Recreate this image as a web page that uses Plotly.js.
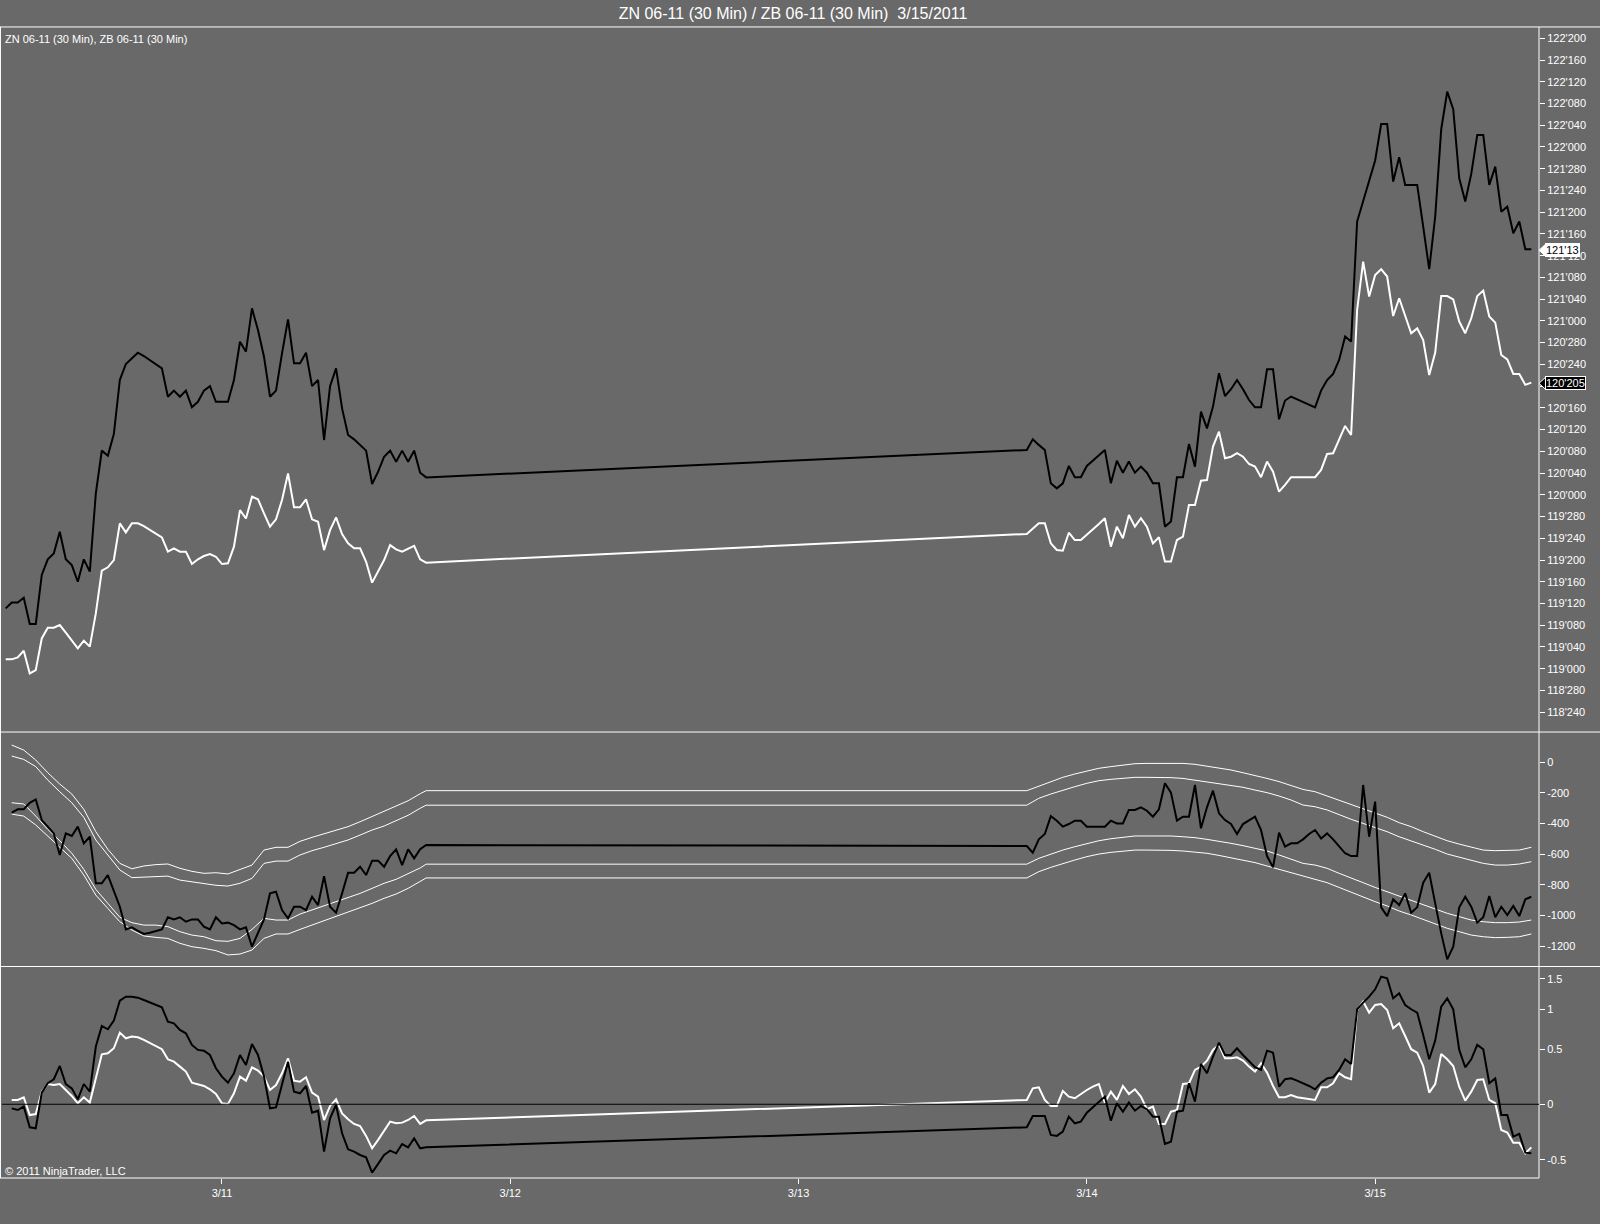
<!DOCTYPE html>
<html><head><meta charset="utf-8">
<script src="https://cdn.plot.ly/plotly-3.0.1.min.js"></script>
<style>html,body{margin:0;padding:0;background:#696969;overflow:hidden;}#chart{width:1600px;height:1224px;}</style>
</head><body><div id="chart"></div>
<script>
// ---- sessions (30-minute bars) ----
const sessionFri = {start: '2011-03-10T06:00', bars: 71};
const sessionMon = {start: '2011-03-13T19:00', bars: 85};

// ---- top panel: ZN (black) and ZB (white) prices ----
const znFri = [119.347,119.381,119.381,119.408,119.257,119.257,119.539,119.629,119.663,119.788,
119.629,119.596,119.500,119.629,119.558,120.008,120.254,120.225,120.349,120.660,
120.752,120.785,120.817,120.798,120.775,120.752,120.727,120.564,120.599,120.564,
120.599,120.503,120.535,120.599,120.625,120.535,120.535,120.535,120.660,120.880,
120.823,121.072,120.947,120.794,120.564,120.599,120.813,121.009,120.756,120.756,
120.817,120.625,120.660,120.315,120.625,120.727,120.497,120.344,120.319,120.286,
120.254,120.062,120.133,120.219,120.254,120.190,120.254,120.190,120.254,120.127,
120.100];
const znMon = [120.258,120.319,120.287,120.258,120.066,120.037,120.066,120.166,120.101,120.101,
120.166,120.196,120.229,120.258,120.066,120.196,120.127,120.191,120.127,120.162,
120.127,120.066,120.066,119.817,119.846,120.101,120.101,120.292,120.162,120.478,
120.382,120.507,120.699,120.568,120.607,120.660,120.607,120.545,120.503,120.503,
120.722,120.722,120.434,120.542,120.565,120.549,120.534,120.519,120.503,120.599,
120.660,120.695,120.775,120.910,120.881,121.571,121.686,121.801,121.922,122.132,
122.132,121.801,121.941,121.782,121.782,121.782,121.542,121.297,121.600,122.102,
122.318,122.217,121.820,121.686,121.845,122.069,122.069,121.782,121.887,121.628,
121.657,121.504,121.571,121.412,121.412];
const zbFri = [119.054,119.054,119.065,119.104,118.973,118.992,119.174,119.236,119.236,119.251,
119.207,119.161,119.117,119.161,119.127,119.318,119.564,119.583,119.625,119.836,
119.784,119.836,119.836,119.820,119.797,119.774,119.755,119.673,119.692,119.673,
119.673,119.602,119.629,119.648,119.659,119.644,119.602,119.606,119.702,119.912,
119.864,119.989,119.974,119.893,119.817,119.859,119.970,120.123,119.928,119.928,
119.974,119.859,119.845,119.682,119.797,119.870,119.774,119.721,119.692,119.692,
119.615,119.495,119.558,119.625,119.711,119.686,119.673,119.692,119.707,119.629,
119.610];
const zbMon = [119.775,119.807,119.836,119.836,119.721,119.683,119.679,119.782,119.740,119.740,
119.769,119.798,119.832,119.865,119.702,119.817,119.750,119.884,119.817,119.865,
119.817,119.721,119.756,119.616,119.616,119.740,119.759,119.942,119.942,120.081,
120.085,120.277,120.363,120.210,120.219,120.239,120.219,120.177,120.162,120.101,
120.191,120.133,120.018,120.057,120.101,120.101,120.101,120.101,120.101,120.143,
120.235,120.239,120.315,120.396,120.344,121.063,121.341,121.140,121.264,121.297,
121.255,121.028,121.130,121.034,120.929,120.957,120.890,120.689,120.818,121.143,
121.143,121.124,120.996,120.929,121.015,121.143,121.174,121.025,120.990,120.804,
120.779,120.695,120.695,120.632,120.645];

// ---- middle panel: spread (black) and bands (white) ----
const spreadFri = [null,-329,-307,-307,-264,-242,-377,-420,-464,-605,
-464,-481,-420,-529,-486,-790,-790,-736,-834,-943,
-1091,-1078,-1100,-1121,-1113,-1102,-1091,-1012,-1026,-1012,
-1041,-1026,-1026,-1073,-1091,-1012,-1052,-1047,-1063,-1091,
-1078,-1204,-1117,-1026,-856,-845,-965,-1019,-943,-943,
-965,-878,-932,-743,-943,-982,-856,-721,-721,-682,
-736,-642,-642,-682,-612,-568,-671,-568,-627,-568,
-540];
const spreadMon = [-547,-590,-503,-468,-351,-381,-420,-403,-381,-381,
-420,-420,-420,-420,-381,-399,-399,-311,-311,-294,
-316,-355,-307,-137,-198,-381,-355,-355,-148,-431,
-294,-185,-333,-377,-403,-468,-403,-377,-355,-442,
-612,-686,-460,-551,-529,-529,-503,-468,-442,-497,
-464,-503,-551,-594,-612,-612,-148,-486,-257,-947,
-1004,-895,-932,-856,-982,-947,-786,-721,-921,-1117,
-1287,-1204,-947,-878,-943,-1047,-1012,-873,-1012,-943,
-997,-938,-1004,-895,-878];
// bands are read every second bar
const bandUpperOuterFri = [113,80,15,-68,-142,-207,-307,-453,-568,-660,-695,-677,-668,-664,-692,-712,-725,-721,-729,-699,-671,-573,-555,-555,-516,-490,-468,-442,-420,-388,-355,-322,-285,-251,-205,-185];
const bandUpperInnerFri = [41,19,-28,-116,-192,-264,-359,-507,-605,-703,-753,-751,-747,-743,-769,-782,-795,-803,-808,-790,-758,-660,-645,-645,-605,-577,-555,-529,-507,-475,-442,-416,-381,-346,-300,-280];
const bandLowerInnerFri = [-264,-272,-351,-438,-512,-594,-699,-830,-921,-1012,-1047,-1063,-1063,-1073,-1106,-1128,-1139,-1165,-1169,-1150,-1091,-1019,-1030,-1030,-991,-965,-938,-910,-882,-856,-823,-790,-764,-729,-690,-665];
const bandLowerOuterFri = [-338,-351,-409,-481,-551,-627,-736,-867,-954,-1041,-1095,-1134,-1143,-1150,-1182,-1204,-1215,-1230,-1258,-1252,-1226,-1150,-1121,-1121,-1091,-1063,-1034,-1008,-982,-954,-921,-888,-860,-823,-780,-755];
const bandUpperOuterMon = [-185,-155,-126,-98,-76,-55,-39,-28,-18,-9,-7,-7,-7,-7,-13,-24,-37,-50,-68,-85,-105,-126,-150,-177,-192,-220,-251,-279,-307,-333,-359,-394,-420,-453,-481,-512,-534,-555,-573,-577,-577,-573,-555];
const bandUpperInnerMon = [-280,-235,-207,-181,-159,-137,-120,-111,-105,-98,-98,-98,-100,-105,-116,-126,-137,-148,-163,-181,-198,-220,-246,-279,-290,-311,-344,-372,-399,-425,-453,-486,-512,-540,-568,-599,-621,-642,-660,-671,-671,-664,-649];
const bandLowerInnerMon = [-665,-627,-599,-573,-551,-529,-512,-499,-490,-481,-481,-481,-481,-486,-492,-503,-514,-529,-544,-562,-579,-605,-634,-660,-671,-692,-725,-758,-786,-817,-845,-878,-904,-932,-960,-986,-1008,-1030,-1041,-1047,-1047,-1043,-1030];
const bandLowerOuterMon = [-755,-714,-686,-660,-638,-616,-599,-588,-579,-573,-573,-573,-575,-579,-586,-594,-608,-623,-638,-655,-677,-699,-725,-747,-764,-786,-817,-849,-878,-910,-938,-971,-997,-1026,-1056,-1084,-1106,-1128,-1139,-1145,-1143,-1139,-1121];

// ---- bottom panel: oscillators ----
const oscBlackFri = [null,-0.037,-0.052,-0.021,-0.208,-0.217,0.105,0.190,0.226,0.346,
0.183,0.144,0.045,0.183,0.114,0.521,0.707,0.677,0.755,0.936,
0.972,0.972,0.963,0.942,0.918,0.897,0.876,0.746,0.731,0.671,
0.641,0.536,0.491,0.484,0.445,0.325,0.250,0.195,0.280,0.445,
0.355,0.545,0.445,0.250,-0.037,-0.028,0.190,0.385,0.114,0.099,
0.165,-0.076,-0.058,-0.428,-0.127,-0.006,-0.262,-0.407,-0.428,-0.458,
-0.479,-0.618,-0.539,-0.458,-0.419,-0.443,-0.359,-0.389,-0.307,-0.398,
-0.389];
const oscWhiteFri = [null,0.039,0.039,0.063,-0.097,-0.088,0.114,0.183,0.174,0.183,
0.129,0.075,0.009,0.063,0.015,0.234,0.451,0.460,0.506,0.647,
0.596,0.611,0.605,0.581,0.551,0.527,0.497,0.406,0.385,0.340,
0.295,0.195,0.183,0.165,0.135,0.093,0.009,0.003,0.099,0.250,
0.213,0.334,0.304,0.250,0.129,0.174,0.280,0.415,0.213,0.204,
0.244,0.105,0.069,-0.142,-0.015,0.045,-0.082,-0.136,-0.178,-0.196,
-0.286,-0.398,-0.322,-0.238,-0.157,-0.172,-0.166,-0.142,-0.106,-0.178,
-0.145];
const oscBlackMon = [-0.208,-0.106,-0.106,-0.106,-0.277,-0.286,-0.247,-0.112,-0.172,-0.157,
-0.076,-0.028,0.024,0.069,-0.148,0.009,-0.067,0.015,-0.058,-0.015,
-0.045,-0.112,-0.112,-0.359,-0.338,-0.067,-0.058,0.190,0.024,0.364,
0.280,0.430,0.557,0.445,0.445,0.506,0.445,0.385,0.334,0.310,
0.484,0.466,0.159,0.226,0.234,0.213,0.190,0.165,0.135,0.195,
0.234,0.244,0.310,0.406,0.364,0.858,0.918,0.972,1.038,1.153,
1.138,0.957,1.002,0.897,0.858,0.828,0.626,0.406,0.575,0.882,
0.957,0.858,0.491,0.334,0.406,0.536,0.497,0.190,0.234,-0.097,
-0.097,-0.292,-0.268,-0.437,-0.443];
const oscWhiteMon = [0.039,0.144,0.153,0.039,-0.015,-0.015,0.120,0.069,0.054,0.093,
0.129,0.159,0.183,0.015,0.114,0.039,0.165,0.093,0.135,0.069,
-0.045,-0.021,-0.178,-0.178,-0.067,-0.052,0.183,0.190,0.310,0.340,
0.394,0.491,0.536,0.415,0.415,0.424,0.394,0.340,0.295,0.370,
0.286,0.165,0.063,0.063,0.084,0.063,0.054,0.045,0.039,0.153,
0.153,0.190,0.280,0.244,0.226,0.852,0.927,0.828,0.897,0.906,
0.852,0.686,0.731,0.617,0.497,0.466,0.346,0.105,0.183,0.454,
0.406,0.346,0.159,0.033,0.114,0.219,0.226,0.039,0.009,-0.232,
-0.256,-0.347,-0.347,-0.443,-0.389];

// ---- last-value tags ----
const lastZN = 121.406, lastZNText = "121'13";
const lastZB = 120.641, lastZBText = "120'205";

// ---- axis labels ----
const dateTickVals = ['2011-03-11','2011-03-12','2011-03-13','2011-03-14','2011-03-15'];
const dateTickText = ['3/11','3/12','3/13','3/14','3/15'];
const priceTickVals = [118.75,118.875,119,119.125,119.25,119.375,119.5,119.625,119.75,119.875,120,120.125,120.25,120.375,120.5,120.625,120.75,120.875,121,121.125,121.25,121.375,121.5,121.625,121.75,121.875,122,122.125,122.25,122.375,122.5,122.625];
const priceTickText = ["118'240","118'280","119'000","119'040","119'080","119'120","119'160","119'200","119'240","119'280","120'000","120'040","120'080","120'120","120'160","","120'240","120'280","121'000","121'040","121'080","121'120","121'160","121'200","121'240","121'280","122'000","122'040","122'080","122'120","122'160","122'200"];
const spreadTickVals = [0,-200,-400,-600,-800,-1000,-1200];
const spreadTickText = ['0','-200','-400','-600','-800','-1000','-1200'];
const oscTickVals = [1.132,0.858,0.497,0,-0.503];
const oscTickText = ['1.5','1','0.5','0','-0.5'];

// ---- build x values ----
function barTimes(s){
  const t0 = Date.parse(s.start + ':00Z'); const out = [];
  for (let k = 0; k < s.bars; k++) out.push(new Date(t0 + k*1800000).toISOString().slice(0,16).replace('T',' '));
  return out;
}
const tFri = barTimes(sessionFri), tMon = barTimes(sessionMon);
const tAll = tFri.concat(tMon);
const bandTimes = [];
for (let i = 1; i <= 69; i += 2) bandTimes.push(tFri[i]);
bandTimes.push(tFri[70]);
for (let j = 0; j <= 84; j += 2) bandTimes.push(tMon[j]);

const BLACK = '#000000', WHITE = '#ffffff';
function line(x, y, color, width, yaxis){
  return {type:'scatter', mode:'lines', x:x, y:y, yaxis:yaxis, line:{color:color, width:width}, connectgaps:false, hoverinfo:'skip'};
}
const traces = [
  line(tAll, zbFri.concat(zbMon), WHITE, 2, 'y'),
  line(tAll, znFri.concat(znMon), BLACK, 2, 'y'),
  line(bandTimes, bandUpperOuterFri.concat(bandUpperOuterMon), WHITE, 1, 'y2'),
  line(bandTimes, bandUpperInnerFri.concat(bandUpperInnerMon), WHITE, 1, 'y2'),
  line(bandTimes, bandLowerInnerFri.concat(bandLowerInnerMon), WHITE, 1, 'y2'),
  line(bandTimes, bandLowerOuterFri.concat(bandLowerOuterMon), WHITE, 1, 'y2'),
  line(tAll, spreadFri.concat(spreadMon), BLACK, 2, 'y2'),
  line(tAll, oscWhiteFri.concat(oscWhiteMon), WHITE, 2, 'y3'),
  line(tAll, oscBlackFri.concat(oscBlackMon), BLACK, 2, 'y3')
];

const yCommon = {side:'right', anchor:'x', showgrid:false, zeroline:false, showline:false,
  ticks:'outside', ticklen:5, tickwidth:1, tickcolor:WHITE, tickfont:{size:11, color:WHITE}, fixedrange:true};

const W = '#ffffff';
// tag pointer geometry (half height of tag in price units on top axis)
const tagHalf = 0.034, tagX0 = 1.0, tagX1 = 1.0042;
function tagPointer(v, fill){
  return {type:'path', xref:'paper', yref:'y',
    path:'M ' + tagX0 + ',' + v + ' L ' + tagX1 + ',' + (v + tagHalf) + ' L ' + tagX1 + ',' + (v - tagHalf) + ' Z',
    fillcolor:fill, line:{color:W, width:1}};
}
const layout = {
  width:1600, height:1224,
  paper_bgcolor:'#696969', plot_bgcolor:'#696969',
  margin:{l:2, r:61, t:28, b:46, pad:0},
  showlegend:false,
  font:{family:'"Liberation Sans", Arial, sans-serif', color:W, size:11},
  title:{text:'ZN 06-11 (30 Min) / ZB 06-11 (30 Min)\u00a0 3/15/2011', font:{size:16, color:W},
    x:793/1600, xref:'container', xanchor:'center', y:1-13/1224, yref:'container', yanchor:'middle'},
  xaxis:{type:'date', range:['2011-03-10 05:41:24','2011-03-15 13:38:24'], anchor:'y3',
    tickmode:'array', tickvals:dateTickVals, ticktext:dateTickText,
    ticks:'outside', ticklen:5, tickcolor:W, tickfont:{size:11, color:W},
    showgrid:false, zeroline:false, showline:false, fixedrange:true},
  yaxis:Object.assign({}, yCommon, {domain:[0.3878,1], range:[118.636,122.684], tickmode:'array', tickvals:priceTickVals, ticktext:priceTickText}),
  yaxis2:Object.assign({}, yCommon, {domain:[0.1843,0.3878], range:[-1330.5,197.9], tickmode:'array', tickvals:spreadTickVals, ticktext:spreadTickText}),
  yaxis3:Object.assign({}, yCommon, {domain:[0,0.1835], range:[-0.666,1.240], tickmode:'array', tickvals:oscTickVals, ticktext:oscTickText}),
  shapes:[
    {type:'line', xref:'paper', yref:'paper', x0:-0.0013, x1:1.0397, y0:1.0009, y1:1.0009, line:{color:W, width:1}},
    {type:'line', xref:'paper', yref:'paper', x0:-0.0013, x1:1.0397, y0:0.3878, y1:0.3878, line:{color:W, width:1}},
    {type:'line', xref:'paper', yref:'paper', x0:-0.0013, x1:1.0397, y0:0.1839, y1:0.1839, line:{color:W, width:1}},
    {type:'line', xref:'paper', yref:'paper', x0:-0.0013, x1:1.0, y0:0, y1:0, line:{color:W, width:1}},
    {type:'line', xref:'paper', yref:'paper', x0:1.0, x1:1.0, y0:0, y1:1.0009, line:{color:W, width:1}},
    {type:'line', xref:'paper', yref:'paper', x0:-0.001, x1:-0.001, y0:0, y1:1.0009, line:{color:W, width:1}},
    {type:'line', xref:'paper', yref:'y3', x0:0, x1:1, y0:0, y1:0, line:{color:BLACK, width:1}},
    tagPointer(lastZN, W),
    tagPointer(lastZB, BLACK)
  ],
  annotations:[
    {text:'ZN 06-11 (30 Min), ZB 06-11 (30 Min)', xref:'paper', yref:'paper', x:0.0007, y:0.9904, xanchor:'left', yanchor:'middle', showarrow:false, font:{size:11, color:W}},
    {text:'\u00a9 2011 NinjaTrader, LLC', xref:'paper', yref:'paper', x:0.0007, y:0.0061, xanchor:'left', yanchor:'middle', showarrow:false, font:{size:11, color:W}},
    {text:lastZNText, xref:'paper', yref:'y', x:tagX1, y:lastZN, xanchor:'left', yanchor:'middle', showarrow:false, bgcolor:W, bordercolor:W, borderwidth:1, borderpad:0, font:{size:11, color:BLACK}},
    {text:lastZBText, xref:'paper', yref:'y', x:tagX1, y:lastZB, xanchor:'left', yanchor:'middle', showarrow:false, bgcolor:BLACK, bordercolor:W, borderwidth:1, borderpad:0, font:{size:11, color:W}}
  ]
};
Plotly.newPlot('chart', traces, layout, {displayModeBar:false, staticPlot:true});
</script></body></html>
